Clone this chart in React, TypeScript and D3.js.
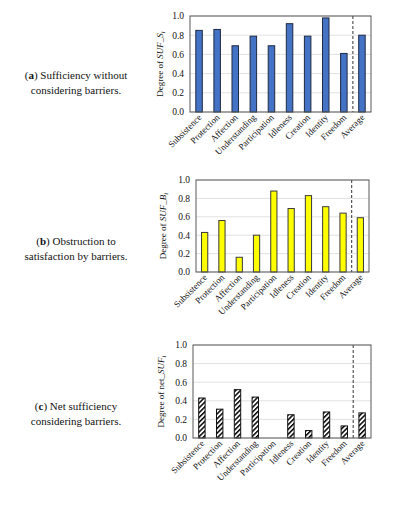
import * as d3 from 'd3';

const categories = [
  'Subsistence', 'Protection', 'Affection', 'Understanding', 'Participation',
  'Idleness', 'Creation', 'Identity', 'Freedom', 'Average',
];

// (a) sufficiency without barriers
const sufS = [0.85, 0.86, 0.69, 0.79, 0.69, 0.92, 0.79, 0.98, 0.61, 0.8];
// (b) obstruction by barriers
const sufB = [0.43, 0.56, 0.16, 0.4, 0.88, 0.69, 0.83, 0.71, 0.64, 0.59];
// (c) net sufficiency
const netSuf = [0.43, 0.31, 0.52, 0.44, 0, 0.25, 0.08, 0.28, 0.13, 0.27];

const yTicks = [0, 0.2, 0.4, 0.6, 0.8, 1.0];

const serif = "'Liberation Serif', 'DejaVu Serif', serif";
const txt = { fontFamily: serif };

interface PanelProps {
  values: number[];
  left: number;
  right: number;
  top: number;
  bottom: number;
  fill: string;
  stroke: string;
  labelX: number;
  label: React.ReactNode;
  caption: [React.ReactNode, string];
  captionY: number;
}

const Panel = ({ values, left, right, top, bottom, fill, stroke, labelX, label, caption, captionY }: PanelProps) => {
  const x = d3.scaleBand<string>().domain(categories).range([left, right]).paddingInner(0.64).paddingOuter(0.32);
  const y = d3.scaleLinear().domain([0, 1]).range([bottom, top]);
  const band = d3.scaleBand<string>().domain(categories).range([left, right]);
  const dashX = band('Average') as number;

  return (
    <g>
      {/* caption */}
      <text x={76} y={captionY} textAnchor="middle" style={txt} fontSize={11} fill="#111">
        {caption[0]}
      </text>
      <text x={76} y={captionY + 15} textAnchor="middle" style={txt} fontSize={11} fill="#111">
        {caption[1]}
      </text>

      {/* grid */}
      {yTicks.map(t => (
        <line key={t} x1={left} x2={right} y1={y(t)} y2={y(t)} stroke="#d9d9d9" strokeWidth={0.8} />
      ))}

      {/* bars */}
      {values.map((v, i) => (
        <rect
          key={categories[i]}
          x={x(categories[i])}
          y={y(v)}
          width={x.bandwidth()}
          height={bottom - y(v)}
          fill={fill}
          stroke={stroke}
          strokeWidth={1}
        />
      ))}

      {/* separator before Average */}
      <line x1={dashX} x2={dashX} y1={top} y2={bottom} stroke="#333" strokeWidth={1} strokeDasharray="3,2" />

      {/* frame */}
      <rect x={left} y={top} width={right - left} height={bottom - top} fill="none" stroke="#595959" strokeWidth={1} />

      {/* y ticks */}
      {yTicks.map(t => (
        <text key={t} x={left - 6} y={y(t)} dy="0.35em" textAnchor="end" style={txt} fontSize={9.5} fill="#111">
          {t.toFixed(1)}
        </text>
      ))}

      {/* y label */}
      <text
        transform={`translate(${labelX},${(top + bottom) / 2}) rotate(-90)`}
        textAnchor="middle"
        style={txt}
        fontSize={9}
        fill="#111"
      >
        {label}
      </text>

      {/* category labels */}
      {categories.map(c => {
        const cx = (x(c) as number) + x.bandwidth() / 2;
        return (
          <text
            key={c}
            transform={`translate(${cx + 3},${bottom + 6}) rotate(-45)`}
            textAnchor="end"
            style={txt}
            fontSize={9}
            fill="#111"
          >
            {c}
          </text>
        );
      })}
    </g>
  );
};

const App = () => (
  <svg
    width={412}
    height={511}
    style={{ position: 'absolute', left: 0, top: 0, background: '#fff' }}
  >
    <defs>
      <pattern id="hatch" width={3.4} height={3.4} patternUnits="userSpaceOnUse" patternTransform="rotate(45)">
        <rect width={3.4} height={3.4} fill="#fff" />
        <line x1={0} y1={0} x2={0} y2={3.4} stroke="#000" strokeWidth={3} />
      </pattern>
    </defs>

    <Panel
      values={sufS}
      left={190}
      right={371}
      top={16}
      bottom={112}
      fill="#4472c4"
      stroke="#1f2a44"
      labelX={163}
      label={
        <>
          Degree of <tspan fontStyle="italic">SUF_S</tspan>
          <tspan fontStyle="italic" fontSize={6.5} dy={2}>i</tspan>
        </>
      }
      caption={[
        <>
          (<tspan fontWeight="bold">a</tspan>) Sufficiency without
        </>,
        'considering barriers.',
      ]}
      captionY={79}
    />

    <Panel
      values={sufB}
      left={196}
      right={369}
      top={180}
      bottom={272}
      fill="#ffff00"
      stroke="#3a3a3a"
      labelX={166}
      label={
        <>
          Degree of <tspan fontStyle="italic">SUF_B</tspan>
          <tspan fontStyle="italic" fontSize={6.5} dy={2}>i</tspan>
        </>
      }
      caption={[
        <>
          (<tspan fontWeight="bold">b</tspan>) Obstruction to
        </>,
        'satisfaction by barriers.',
      ]}
      captionY={245}
    />

    <Panel
      values={netSuf}
      left={193}
      right={371}
      top={345}
      bottom={438}
      fill="url(#hatch)"
      stroke="#111"
      labelX={164}
      label={
        <>
          Degree of net_<tspan fontStyle="italic">SUF</tspan>
          <tspan fontStyle="italic" fontSize={6.5} dy={2}>i</tspan>
        </>
      }
      caption={[
        <>
          (<tspan fontWeight="bold">c</tspan>) Net sufficiency
        </>,
        'considering barriers.',
      ]}
      captionY={410}
    />
  </svg>
);

export default App;
